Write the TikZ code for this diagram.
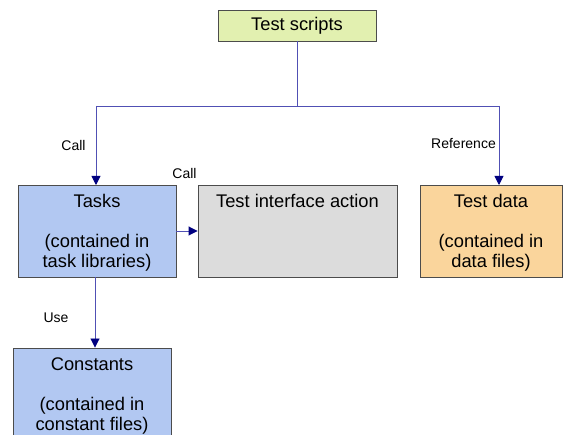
\documentclass[tikz,border=0pt]{standalone}
\usepackage{fontspec}
\setmainfont{Liberation Sans}
\usetikzlibrary{arrows.meta}
\definecolor{scriptfill}{HTML}{E2F0B0}
\definecolor{taskfill}{HTML}{B2C8F2}
\definecolor{greyfill}{HTML}{DCDCDC}
\definecolor{datafill}{HTML}{FAD59C}
\definecolor{linkblue}{HTML}{5050B4}
\definecolor{headblue}{HTML}{000080}
\begin{document}
\begin{tikzpicture}[x=1pt,y=-1pt,
  box/.style={draw=black!70,line width=0.9pt,inner sep=0pt},
  txt/.style={anchor=north,align=center,font=\fontsize{18.3}{20}\selectfont,inner sep=0pt},
  lbl/.style={font=\fontsize{14}{16}\selectfont,inner sep=0pt},
  link/.style={draw=linkblue,line width=0.9pt},
  arr/.style={link,-{Triangle[width=9pt,length=9pt,fill=headblue,color=headblue]}}]
\useasboundingbox (0,0) rectangle (565,435);
% boxes
\node[box,fill=scriptfill,minimum width=158pt,minimum height=31pt] (scripts) at (297,25.5) {};
\node[txt,anchor=center] (scriptst) at (297,26) {Test scripts};

\node[box,fill=taskfill,minimum width=158pt,minimum height=92pt] (tasks) at (97,231) {};
\node[txt] (taskst) at (97,194) {Tasks\\[20pt]\relax(contained in\\task libraries)};

\node[box,fill=greyfill,minimum width=199pt,minimum height=92pt] (tia) at (297.5,231) {};
\node[txt] (tiat) at (297.5,194) {Test interface action};

\node[box,fill=datafill,minimum width=142pt,minimum height=92pt] (data) at (491,231) {};
\node[txt] (datat) at (491,194) {Test data\\[20pt]\relax(contained in\\data files)};

\node[box,fill=taskfill,minimum width=158pt,minimum height=100pt] (const) at (92,398) {};
\node[txt] (constt) at (92,358) {Constants\\[20pt]\relax(contained in\\constant files)};

% connectors
\coordinate (mid) at (297,106);
\coordinate (lft) at (96,106);
\coordinate (rgt) at (499,106);
\draw[link] (scripts.south) -- (mid);
\draw[link] (lft) -- (rgt);
\draw[arr] (lft) -- (96,185);
\draw[arr] (rgt) -- (499,185);
\draw[arr] (tasks.east |- 0,231) -- (tia.west |- 0,231);
\draw[arr] (tasks.south -| 95,0) -- (const.north -| 95,0);

% labels
\node[lbl] (l1) at (73.5,145) {Call};
\node[lbl] (l2) at (184.5,173) {Call};
\node[lbl] (l3) at (463.5,144) {Reference};
\node[lbl] (l4) at (56,318) {Use};
\end{tikzpicture}
\end{document}
